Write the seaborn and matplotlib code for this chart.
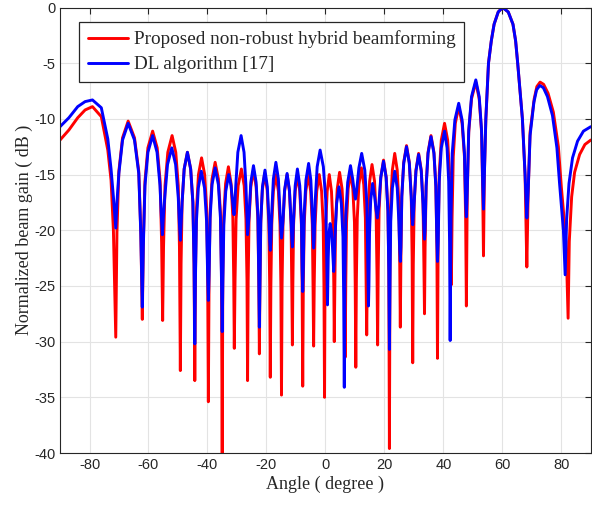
import matplotlib
matplotlib.use("Agg")
import matplotlib.pyplot as plt
import seaborn as sns

# Proposed non-robust hybrid beamforming (red): angle in degree, gain in dB
# one row per lobe (nulls, lobe flanks, lobe tops)
red_deg = [
    -90.0, -87.0, -84.0, -81.5, -79.0, -76.0, -73.8, -72.7, -71.9, -71.1,
    -70.7, -70.05, -68.8, -66.9, -64.75, -63.3, -62.6, -62.1,
    -61.75, -61.2, -60.2, -58.6, -57.05, -56.05, -55.55, -55.2,
    -54.9, -54.4, -53.45, -52.0, -50.75, -49.9, -49.5, -49.2,
    -48.95, -48.6, -47.9, -46.8, -45.7, -44.95, -44.55, -44.3,
    -44.05, -43.7, -43.05, -42.0, -40.95, -40.3, -39.95, -39.7,
    -39.45, -39.1, -38.45, -37.4, -36.3, -35.6, -35.25, -35.0,
    -34.8, -34.5, -33.85, -32.9, -32.0, -31.4, -31.1, -30.9,
    -30.65, -30.3, -29.6, -28.5, -27.55, -26.95, -26.6, -26.4,
    -26.2, -25.9, -25.3, -24.4, -23.5, -22.9, -22.6, -22.4,
    -22.2, -21.95, -21.4, -20.6, -19.75, -19.2, -18.9, -18.7,
    -18.5, -18.2, -17.65, -16.8, -15.95, -15.4, -15.1, -14.9,
    -14.7, -14.4, -13.85, -13.0, -12.2, -11.65, -11.4, -11.2,
    -11.05, -10.8, -10.25, -9.5, -8.7, -8.15, -7.9, -7.7,
    -7.5, -7.2, -6.65, -5.8, -5.0, -4.45, -4.2, -4.0,
    -3.8, -3.5, -2.95, -2.1, -1.3, -0.75, -0.5, -0.3,
    -0.15, 0.1, 0.6, 1.3, 2.05, 2.55, 2.85, 3.0,
    3.2, 3.45, 4.0, 4.8, 5.65, 6.2, 6.5, 6.7,
    6.9, 7.15, 7.7, 8.5, 9.3, 9.85, 10.1, 10.3,
    10.5, 10.8, 11.35, 12.2, 13.0, 13.55, 13.8, 14.0,
    14.2, 14.45, 15.0, 15.8, 16.65, 17.2, 17.5, 17.7,
    17.9, 18.2, 18.8, 19.7, 20.6, 21.2, 21.5, 21.7,
    21.9, 22.15, 22.7, 23.5, 24.35, 24.9, 25.2, 25.4,
    25.6, 25.9, 26.55, 27.5, 28.45, 29.1, 29.4, 29.6,
    29.8, 30.1, 30.7, 31.6, 32.5, 33.1, 33.4, 33.6,
    33.8, 34.15, 34.8, 35.8, 36.8, 37.45, 37.8, 38.0,
    38.25, 38.6, 39.3, 40.4, 41.45, 42.1, 42.45, 42.7,
    42.95, 43.35, 44.05, 45.2, 46.35, 47.15, 47.55, 47.8,
    48.1, 48.6, 49.55, 51.0, 52.15, 52.95, 53.35, 53.6,
    53.9, 54.4, 55.3, 56.25, 57.2, 58.6, 60.1, 62.0, 63.6, 64.5, 65.2, 66.8, 67.7, 68.3,
    68.75, 69.4, 70.8, 71.7, 72.8, 74.0, 75.5, 77.3, 79.0, 80.0, 81.6, 82.3,
    82.7, 83.5, 84.5, 86.2, 88.0, 90.0,
]
red_db = [
    -11.9, -11.0, -9.9, -9.2, -8.9, -9.8, -12.8, -15.5, -20.0, -29.6,
    -20.2, -14.7, -11.7, -10.2, -11.7, -14.7, -20.2, -28.0,
    -21.1, -15.6, -12.6, -11.1, -12.6, -15.6, -21.1, -28.1,
    -21.5, -16.0, -13.0, -11.5, -13.0, -16.0, -21.5, -32.6,
    -23.0, -17.5, -14.5, -13.0, -14.5, -17.5, -23.0, -33.5,
    -23.5, -18.0, -15.0, -13.5, -15.0, -18.0, -23.5, -35.4,
    -23.9, -18.4, -15.4, -13.9, -15.4, -18.4, -23.9, -40.5,
    -24.3, -18.8, -15.8, -14.3, -15.8, -18.8, -24.3, -30.6,
    -24.5, -19.0, -16.0, -14.5, -16.0, -19.0, -24.5, -33.5,
    -24.6, -19.1, -16.1, -14.6, -16.1, -19.1, -24.6, -31.1,
    -24.9, -19.4, -16.4, -14.9, -16.4, -19.4, -24.9, -33.2,
    -25.0, -19.5, -16.5, -15.0, -16.5, -19.5, -25.0, -34.8,
    -25.0, -19.5, -16.5, -15.0, -16.5, -19.5, -25.0, -30.3,
    -25.0, -19.5, -16.5, -15.0, -16.5, -19.5, -25.0, -34.0,
    -25.0, -19.5, -16.5, -15.0, -16.5, -19.5, -25.0, -30.4,
    -25.0, -19.5, -16.5, -15.0, -16.5, -19.5, -25.0, -35.0,
    -25.0, -19.5, -16.5, -15.0, -16.5, -19.5, -25.0, -30.0,
    -24.8, -19.3, -16.3, -14.8, -16.3, -19.3, -24.8, -31.4,
    -24.8, -19.3, -16.3, -14.8, -16.3, -19.3, -24.8, -32.3,
    -24.4, -18.9, -15.9, -14.4, -15.9, -18.9, -24.4, -29.4,
    -24.1, -18.6, -15.6, -14.1, -15.6, -18.6, -24.1, -30.3,
    -23.7, -18.2, -15.2, -13.7, -15.2, -18.2, -23.7, -39.6,
    -23.1, -17.6, -14.6, -13.1, -14.6, -17.6, -23.1, -28.7,
    -22.4, -16.9, -13.9, -12.4, -13.9, -16.9, -22.4, -31.9,
    -23.1, -17.6, -14.6, -13.1, -14.6, -17.6, -23.1, -27.5,
    -21.5, -16.0, -13.0, -11.5, -13.0, -16.0, -21.5, -31.5,
    -20.4, -14.9, -11.9, -10.4, -11.9, -14.9, -20.4, -24.9,
    -18.9, -13.4, -10.4, -8.9, -10.4, -13.4, -18.9, -26.8,
    -16.7, -11.2, -8.2, -6.7, -8.2, -11.2, -16.7, -22.3,
    -15.0, -10.0, -5.0, -3.0, -1.5, -0.4, 0.0, -0.4, -1.5, -3.0, -5.0, -10.0, -15.0, -23.3,
    -16.7, -11.2, -8.2, -7.1, -6.7, -6.9, -7.7, -9.4, -12.5, -16.1, -21.0, -27.9,
    -21.0, -17.0, -14.8, -13.2, -12.3, -11.9,
]

# DL algorithm [17] (blue)
blue_deg = [
    -90.0, -87.0, -84.0, -81.5, -79.0, -76.0, -73.8, -72.7, -71.9, -71.1,
    -70.7, -70.05, -68.8, -66.9, -64.75, -63.3, -62.6, -62.1,
    -61.75, -61.2, -60.2, -58.6, -57.1, -56.1, -55.6, -55.3,
    -55.0, -54.5, -53.55, -52.1, -50.8, -49.9, -49.5, -49.2,
    -48.95, -48.6, -47.9, -46.8, -45.7, -44.95, -44.55, -44.3,
    -44.1, -43.75, -43.1, -42.1, -41.0, -40.3, -39.95, -39.7,
    -39.45, -39.1, -38.45, -37.4, -36.3, -35.6, -35.25, -35.0,
    -34.8, -34.45, -33.8, -32.8, -32.0, -31.45, -31.0,
    -30.7, -30.4, -29.7, -28.6, -27.6, -26.95, -26.6, -26.4,
    -26.2, -25.9, -25.3, -24.4, -23.5, -22.9, -22.6, -22.4,
    -22.2, -21.9, -21.35, -20.5, -19.7, -19.15, -18.9, -18.7,
    -18.5, -18.2, -17.65, -16.8, -15.95, -15.4, -15.1, -14.9,
    -14.7, -14.4, -13.85, -13.0, -12.2, -11.65, -11.4, -11.2,
    -11.05, -10.8, -10.25, -9.5, -8.7, -8.15, -7.9, -7.7,
    -7.5, -7.2, -6.6, -5.7, -4.95, -4.45, -4.15, -4.0,
    -3.8, -3.45, -2.8, -1.8, -0.7, 0.1, 0.45, 0.7,
    0.95, 1.2, 1.6, 2.0, 2.4, 2.8,
    3.0, 3.25, 3.8, 4.6, 5.4, 5.95, 6.2, 6.4,
    6.6, 6.9, 7.55, 8.5, 9.25, 9.75, 10.2,
    10.6, 11.35, 12.3, 13.35, 14.05, 14.4, 14.6,
    14.75, 14.95, 15.35, 16.0, 16.7, 17.2, 17.6,
    18.1, 18.75, 19.7, 20.6, 21.2, 21.5, 21.7,
    21.9, 22.15, 22.7, 23.5, 24.35, 24.9, 25.2, 25.4,
    25.6, 25.9, 26.55, 27.5, 28.45, 29.1, 29.4, 29.6,
    29.8, 30.1, 30.7, 31.6, 32.5, 33.1, 33.4, 33.6,
    33.8, 34.15, 34.8, 35.8, 36.8, 37.45, 37.8, 38.0,
    38.25, 38.6, 39.3, 40.4, 41.25, 41.8, 42.1, 42.3,
    42.6, 43.0, 43.9, 45.2, 46.35, 47.15, 47.55, 47.8,
    48.1, 48.6, 49.55, 51.0, 52.15, 52.95, 53.35, 53.6,
    53.9, 54.4, 55.3, 56.25, 57.2, 58.6, 60.1, 62.0, 63.6, 64.5, 65.2, 66.8, 67.7, 68.3,
    68.75, 69.4, 70.7, 71.6, 72.7, 73.9, 75.3, 77.0, 78.5, 79.4, 80.7, 81.3,
    81.8, 82.6, 83.8, 85.5, 87.5, 90.0,
]
blue_db = [
    -10.7, -9.9, -8.9, -8.45, -8.3, -9.0, -11.8, -14.5, -17.0, -19.8,
    -17.5, -14.9, -11.9, -10.4, -11.9, -14.9, -20.4, -26.9,
    -21.5, -16.0, -13.0, -11.5, -13.0, -16.0, -19.0, -20.4,
    -19.0, -17.1, -14.1, -12.6, -14.1, -17.1, -19.5, -20.9,
    -19.5, -17.5, -14.5, -13.0, -14.5, -17.5, -23.0, -30.2,
    -24.7, -19.2, -16.2, -14.7, -16.2, -19.2, -24.0, -26.3,
    -24.0, -18.9, -15.9, -14.4, -15.9, -18.9, -24.4, -29.1,
    -25.0, -19.5, -16.5, -15.0, -16.0, -17.5, -18.6,
    -17.6, -16.0, -13.0, -11.5, -13.0, -16.0, -19.0, -20.4,
    -19.8, -18.7, -15.7, -14.2, -15.7, -18.7, -24.2, -28.7,
    -24.6, -19.1, -16.1, -14.6, -16.1, -19.1, -21.0, -21.8,
    -21.0, -18.4, -15.4, -13.9, -15.4, -18.4, -20.0, -20.7,
    -20.2, -19.2, -16.4, -14.9, -16.4, -19.2, -20.8, -21.5,
    -20.8, -19.0, -16.0, -14.5, -16.0, -19.0, -23.5, -25.5,
    -23.5, -18.5, -15.5, -14.0, -15.5, -18.5, -20.8, -21.6,
    -20.8, -17.3, -14.3, -12.8, -14.3, -17.3, -22.8, -26.7,
    -22.5, -20.3, -19.4, -20.0, -21.5, -23.7,
    -22.8, -20.6, -17.6, -16.1, -17.6, -20.6, -26.1, -34.1,
    -24.2, -18.7, -15.7, -14.2, -15.4, -16.5, -17.2,
    -16.4, -14.4, -13.1, -14.6, -17.6, -23.1, -26.8,
    -25.0, -20.3, -17.3, -15.8, -17.0, -18.2, -18.9,
    -17.8, -15.3, -13.8, -15.3, -18.3, -23.8, -30.7,
    -24.7, -19.2, -16.2, -14.7, -16.2, -19.2, -21.8, -22.8,
    -21.5, -17.0, -14.0, -12.5, -14.0, -17.0, -18.8, -19.5,
    -18.8, -17.5, -14.7, -13.2, -14.7, -17.7, -19.9, -20.8,
    -19.9, -16.1, -13.1, -11.6, -13.1, -16.1, -21.0, -22.8,
    -21.0, -15.6, -12.6, -11.1, -12.6, -15.6, -21.1, -29.9,
    -18.6, -13.1, -10.1, -8.6, -10.1, -13.1, -17.5, -18.8,
    -16.5, -11.0, -8.0, -6.5, -8.0, -11.0, -16.0, -18.1,
    -15.0, -10.0, -5.0, -3.0, -1.5, -0.4, 0.0, -0.4, -1.5, -3.0, -5.0, -10.0, -15.0, -18.9,
    -16.5, -11.5, -8.5, -7.4, -7.0, -7.2, -8.0, -9.7, -12.6, -15.8, -20.0, -24.0,
    -19.0, -15.8, -13.5, -12.0, -11.1, -10.7,
]

x_ticks = [-80, -60, -40, -20, 0, 20, 40, 60, 80]
y_ticks = [0, -5, -10, -15, -20, -25, -30, -35, -40]

sns.set_style("white")
plt.rcParams["font.family"] = ["Liberation Sans", "DejaVu Sans"]

fig = plt.figure(figsize=(5.92, 5.07), dpi=100)
ax = fig.add_axes([0.1014, 0.1065, 0.8966, 0.8787])

sns.lineplot(x=red_deg, y=red_db, color="#ff0000", linewidth=2.1, sort=False,
             estimator=None, label="Proposed non-robust hybrid beamforming", ax=ax)
sns.lineplot(x=blue_deg, y=blue_db, color="#0000ff", linewidth=2.1, sort=False,
             estimator=None, label="DL algorithm [17]", ax=ax)
for ln in ax.lines:
    ln.set_solid_joinstyle("round")

ax.set_xlim(-90, 90)
ax.set_ylim(-40, 0)
ax.set_xticks(x_ticks)
ax.set_yticks(y_ticks)
ax.set_xticklabels([str(t) for t in x_ticks])
ax.set_yticklabels([str(t) for t in y_ticks])
ax.grid(True, color="#e3e3e3", linewidth=0.8)
ax.set_axisbelow(True)
ax.tick_params(direction="in", length=4, width=0.8, colors="#262626",
               labelsize=10.5, top=True, right=True, labelcolor="#262626")
for s in ax.spines.values():
    s.set_color("#262626")
    s.set_linewidth(0.8)

serif = ["Liberation Serif", "DejaVu Serif"]
ax.set_xlabel("Angle ( degree )", family=serif, fontsize=13, color="#262626", labelpad=3)
ax.set_ylabel("Normalized beam gain ( dB )", family=serif, fontsize=13, color="#262626", labelpad=1)

leg = ax.legend(loc="upper left", bbox_to_anchor=(0.036, 0.968), prop={"family": serif, "size": 13.8},
                frameon=True, fancybox=False, edgecolor="#262626", framealpha=1,
                handlelength=2.1, handletextpad=0.3, borderpad=0.45, labelspacing=0.4,
                borderaxespad=0)
leg.get_frame().set_linewidth(0.9)

fig.savefig("out.png", dpi=100)
